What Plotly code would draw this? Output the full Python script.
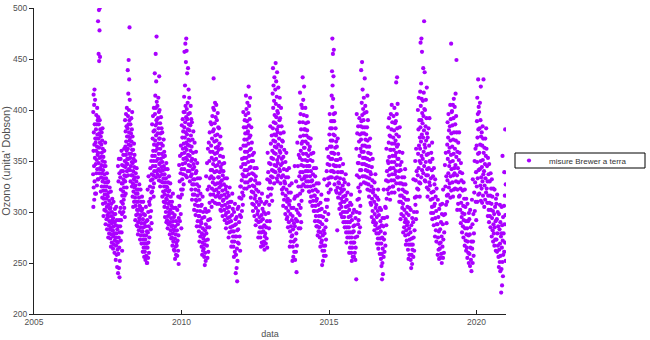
import plotly.graph_objects as go

# Ozone daily totals (Dobson units), grouped by year -> month (Jan..Dec)
oz_2007 = [
    [420, 415, 410, 405, 398, 386, 378, 372, 366, 360, 353, 345, 337, 330, 324, 318, 312, 305],
    [402, 395, 390, 386, 381, 376, 372, 368, 364, 360, 356, 351, 347, 342, 338, 332, 326, 318],
    [500, 498, 487, 478, 455, 452, 448, 393, 390, 386, 381, 377, 372, 368, 363, 358, 353, 348, 343, 338, 332],
    [382, 378, 374, 370, 366, 362, 358, 354, 350, 346, 342, 338, 334, 330, 325, 320, 314],
    [368, 360, 354, 349, 345, 341, 337, 333, 329, 325, 321, 317, 313, 308, 302, 296],
    [345, 338, 333, 329, 325, 321, 317, 313, 309, 305, 301, 297, 293, 288, 283],
    [330, 324, 319, 315, 311, 307, 303, 299, 295, 291, 287, 283, 279, 275],
    [320, 313, 308, 304, 300, 296, 292, 289, 285, 282, 278, 274, 270, 266],
    [310, 303, 298, 294, 290, 286, 282, 279, 276, 272, 268, 264, 260],
    [305, 298, 292, 287, 283, 279, 275, 271, 267, 263, 258, 253, 246],
    [352, 345, 338, 330, 300, 292, 286, 280, 275, 270, 265, 259, 252, 245, 240, 236],
    [360, 352, 346, 340, 334, 328, 322, 316, 310, 304, 298, 292, 286, 280, 272, 262],
]
oz_2008 = [
    [362, 356, 350, 345, 340, 336, 332, 328, 324, 320, 316, 312, 308, 304, 300, 295],
    [402, 396, 390, 384, 379, 374, 369, 364, 360, 356, 352, 348, 344, 340, 335, 330, 324, 318],
    [481, 449, 439, 430, 416, 410, 400, 394, 390, 386, 382, 378, 374, 370, 366, 362, 357, 352, 347, 342, 336],
    [398, 392, 386, 381, 377, 373, 369, 365, 361, 357, 353, 349, 345, 341, 336, 330, 325],
    [374, 367, 361, 356, 352, 348, 344, 340, 336, 332, 328, 324, 320, 315, 310, 305],
    [350, 343, 338, 334, 330, 326, 322, 318, 314, 310, 306, 302, 297, 292, 287],
    [334, 327, 322, 318, 314, 310, 306, 302, 298, 294, 290, 286, 282, 278],
    [322, 315, 310, 305, 301, 297, 293, 289, 285, 281, 277, 273, 269],
    [310, 303, 298, 293, 289, 285, 281, 277, 273, 269, 265, 261, 256],
    [305, 297, 291, 286, 281, 277, 273, 269, 265, 261, 257, 253, 250],
    [335, 322, 310, 300, 292, 286, 280, 275, 270, 265, 260, 255, 250],
    [350, 343, 337, 331, 325, 319, 313, 307, 301, 295, 289, 283],
]
oz_2009 = [
    [402, 394, 386, 379, 372, 366, 360, 355, 350, 345, 340, 336, 332, 328, 324, 320, 315],
    [472, 455, 436, 428, 414, 408, 402, 396, 390, 385, 380, 375, 370, 365, 360, 355, 350, 345, 340, 334],
    [433, 412, 404, 398, 392, 387, 382, 377, 372, 367, 362, 357, 352, 347, 342, 337, 331],
    [400, 393, 387, 382, 377, 372, 367, 362, 357, 352, 348, 344, 340, 335, 330, 325],
    [378, 371, 365, 359, 354, 349, 345, 341, 337, 333, 329, 325, 320, 315, 310],
    [355, 348, 342, 337, 333, 329, 325, 321, 317, 313, 309, 305, 300, 295, 290],
    [342, 335, 329, 324, 320, 316, 312, 308, 304, 300, 296, 292, 288, 284],
    [328, 321, 315, 310, 306, 302, 298, 294, 290, 286, 282, 278, 274],
    [318, 310, 304, 299, 295, 291, 287, 283, 279, 275, 271, 267, 263],
    [304, 297, 291, 286, 282, 278, 274, 270, 266, 262, 258, 254],
    [315, 302, 294, 288, 282, 277, 272, 267, 262, 257, 249],
    [365, 355, 346, 338, 330, 322, 314, 306, 298, 291, 284],
]
oz_2010 = [
    [398, 391, 385, 379, 373, 367, 362, 357, 352, 347, 342, 337, 332, 327, 322, 317],
    [470, 465, 457, 447, 424, 413, 404, 398, 393, 388, 383, 378, 373, 368, 363, 358, 353, 348, 342, 336],
    [458, 441, 436, 420, 407, 401, 396, 391, 386, 381, 376, 371, 366, 361, 356, 351, 346, 340, 334],
    [412, 404, 397, 391, 385, 380, 375, 370, 365, 360, 355, 350, 345, 340, 335, 330],
    [388, 379, 371, 364, 358, 352, 347, 342, 337, 332, 327, 322, 317, 312],
    [368, 359, 351, 344, 338, 332, 327, 322, 317, 312, 307, 302, 297],
    [348, 340, 333, 327, 321, 316, 311, 306, 301, 296, 291, 286],
    [333, 325, 318, 312, 306, 301, 296, 291, 286, 281, 276, 271],
    [315, 307, 300, 294, 289, 284, 279, 274, 270, 266, 262, 258],
    [303, 295, 288, 282, 277, 272, 268, 264, 260, 256, 252, 248],
    [362, 348, 335, 322, 300, 292, 285, 279, 273, 267, 261, 255],
    [388, 378, 368, 359, 350, 341, 333, 325, 317, 309, 301, 293, 285],
]
oz_2011 = [
    [402, 394, 386, 379, 372, 365, 359, 353, 347, 341, 335, 329, 323, 317, 311, 305],
    [431, 407, 400, 393, 387, 381, 375, 369, 363, 357, 351, 345, 339, 333, 327, 321, 315, 309],
    [405, 397, 390, 383, 376, 370, 364, 358, 352, 346, 340, 334, 328, 322, 316, 308],
    [382, 374, 367, 361, 355, 349, 344, 339, 334, 329, 324, 319, 314, 308, 302],
    [362, 354, 347, 341, 336, 331, 326, 321, 316, 311, 306, 301, 296],
    [348, 340, 333, 327, 322, 317, 312, 307, 302, 297, 292],
    [333, 325, 319, 314, 309, 304, 299, 294, 289, 284],
    [324, 316, 310, 305, 300, 295, 290, 285, 280, 275],
    [318, 310, 303, 297, 291, 286, 281, 276, 271, 266],
    [308, 300, 293, 287, 281, 276, 271, 266, 261, 256],
    [303, 295, 288, 282, 276, 270, 264, 258, 252, 245, 240, 232],
    [325, 314, 305, 297, 290, 283, 276, 269, 262],
]
oz_2012 = [
    [362, 352, 344, 337, 331, 325, 319, 313, 307, 301, 295],
    [398, 390, 383, 377, 371, 365, 359, 353, 347, 341, 335, 329, 323, 316],
    [414, 407, 401, 395, 389, 383, 377, 371, 365, 359, 353, 347, 341, 335, 329, 323],
    [423, 412, 404, 397, 391, 385, 379, 373, 367, 361, 355, 349, 343, 337, 331, 325],
    [383, 375, 368, 362, 356, 350, 344, 338, 332, 326, 320, 314, 308],
    [358, 350, 343, 337, 331, 325, 319, 313, 307, 301, 296],
    [343, 335, 328, 322, 316, 310, 304, 298, 292, 287],
    [328, 320, 313, 307, 301, 295, 290, 285, 280, 275],
    [318, 310, 303, 297, 291, 285, 280, 275, 270, 266],
    [308, 300, 293, 287, 281, 276, 271, 267, 263],
    [332, 310, 298, 291, 285, 279, 274, 269, 265],
    [358, 348, 339, 331, 323, 315, 307, 299, 291, 284],
]
oz_2013 = [
    [384, 375, 367, 360, 353, 347, 341, 335, 329, 323, 317, 311],
    [441, 432, 424, 416, 409, 402, 395, 388, 382, 376, 370, 364, 358, 352, 346, 340, 334, 328],
    [446, 437, 428, 420, 413, 406, 399, 393, 387, 381, 375, 369, 363, 357, 351, 345, 339, 333],
    [422, 412, 404, 397, 390, 384, 378, 372, 366, 360, 354, 348, 342, 336, 330],
    [402, 392, 384, 377, 370, 364, 358, 352, 346, 340, 334, 328, 322],
    [378, 369, 361, 354, 348, 342, 336, 330, 324, 318, 312, 306],
    [358, 349, 341, 334, 328, 322, 316, 310, 304, 298, 293],
    [343, 334, 326, 319, 313, 307, 301, 295, 290, 285],
    [328, 319, 311, 304, 298, 292, 286, 281, 276, 271, 266],
    [313, 304, 296, 289, 283, 277, 271, 266, 261, 256, 252],
    [345, 330, 315, 302, 293, 286, 279, 273, 267, 261, 253, 241],
    [368, 356, 345, 335, 325, 316, 307, 299, 291, 284],
]
oz_2014 = [
    [417, 405, 396, 388, 381, 374, 367, 360, 353, 346, 339, 332, 325, 318, 311, 304, 297, 290, 284],
    [432, 423, 410, 402, 395, 388, 381, 375, 369, 363, 357, 351, 345, 339, 333, 327, 321],
    [402, 394, 387, 381, 375, 369, 363, 357, 351, 345, 340, 335, 330, 325],
    [388, 380, 373, 367, 361, 355, 350, 345, 340, 335, 330, 325, 320],
    [372, 364, 357, 351, 345, 340, 335, 330, 325, 320, 315, 310],
    [358, 350, 343, 337, 331, 326, 321, 316, 311, 306, 301],
    [343, 335, 328, 322, 316, 311, 306, 301, 296, 291, 286],
    [328, 320, 313, 307, 301, 296, 291, 286, 281, 277],
    [317, 309, 302, 296, 290, 285, 280, 275, 270, 266],
    [303, 295, 288, 282, 277, 272, 267, 262, 257, 252, 248],
    [332, 312, 300, 292, 285, 279, 273, 267, 262, 257],
    [362, 354, 347, 340, 333, 326, 319, 312, 305, 298],
]
oz_2015 = [
    [396, 389, 382, 376, 370, 364, 358, 352, 346, 340, 334, 328, 322],
    [470, 459, 455, 438, 433, 424, 414, 411, 403, 396, 389, 382, 376, 370, 364, 358, 352, 346, 340, 334],
    [397, 389, 382, 375, 369, 363, 357, 351, 345, 339, 333, 327, 321],
    [372, 364, 357, 351, 345, 339, 334, 329, 324, 319, 314, 282],
    [352, 345, 339, 333, 328, 323, 318, 313, 308, 303, 298],
    [347, 339, 332, 326, 320, 315, 310, 305, 300, 295, 290],
    [337, 329, 322, 316, 310, 305, 300, 295, 290, 285, 280],
    [327, 319, 312, 306, 300, 295, 290, 285, 280, 275, 270],
    [317, 309, 302, 296, 290, 285, 280, 275, 270, 265, 260],
    [307, 299, 292, 286, 280, 275, 270, 265, 260, 256, 252],
    [302, 294, 287, 281, 275, 270, 265, 260, 256, 253],
    [396, 384, 377, 362, 348, 336, 324, 312, 300, 288, 276, 234],
]
oz_2016 = [
    [392, 384, 376, 369, 362, 355, 348, 341, 334, 327, 320, 313, 306, 299, 292, 285, 280],
    [447, 439, 420, 407, 401, 395, 389, 383, 377, 371, 365, 359, 353, 347, 341, 335],
    [431, 412, 404, 397, 390, 383, 377, 371, 365, 359, 353, 347, 341, 335, 329],
    [414, 398, 390, 383, 376, 370, 364, 358, 352, 346, 340, 334, 328, 322],
    [372, 364, 357, 351, 345, 339, 333, 327, 321, 315, 309],
    [352, 344, 337, 331, 325, 319, 313, 307, 301, 295, 290],
    [337, 329, 322, 316, 310, 304, 298, 292, 287, 282],
    [322, 314, 307, 301, 295, 289, 284, 279, 274, 269],
    [312, 304, 297, 291, 285, 279, 274, 269, 264, 259],
    [302, 294, 287, 281, 275, 269, 264, 259, 254, 250, 247, 239, 234],
    [322, 305, 294, 286, 279, 273, 267, 261, 256],
    [362, 350, 340, 331, 322, 313, 304, 295, 287],
]
oz_2017 = [
    [392, 383, 375, 368, 361, 354, 348, 342, 336, 330, 324, 318, 312],
    [405, 396, 388, 381, 374, 367, 361, 355, 349, 343, 337, 331, 325, 319],
    [402, 394, 387, 380, 373, 367, 361, 355, 349, 343, 337, 331, 325, 319],
    [432, 427, 406, 396, 389, 382, 376, 370, 364, 358, 352, 346, 340, 334, 328],
    [383, 374, 366, 359, 352, 346, 340, 334, 328, 322, 316, 310],
    [358, 349, 341, 334, 328, 322, 316, 310, 304, 298, 293],
    [342, 334, 327, 320, 314, 308, 302, 296, 290, 285, 280],
    [327, 319, 312, 305, 299, 293, 287, 282, 277, 272, 268],
    [312, 304, 297, 290, 284, 278, 273, 268, 263, 258, 254],
    [302, 294, 287, 280, 274, 268, 263, 258, 253, 249, 245],
    [332, 314, 300, 290, 282, 275, 268, 262, 256],
    [362, 350, 340, 331, 323, 315, 307, 300, 293],
]
oz_2018 = [
    [412, 400, 390, 381, 373, 365, 357, 350, 343, 336, 329, 322, 315],
    [470, 466, 457, 426, 418, 411, 404, 397, 390, 383, 376, 369, 362, 355, 348, 341, 334, 328],
    [487, 441, 437, 417, 409, 401, 394, 387, 380, 373, 366, 359, 352, 345, 338, 331],
    [422, 410, 400, 392, 384, 377, 370, 363, 356, 349, 342, 336, 330, 324],
    [392, 382, 373, 365, 357, 350, 343, 336, 329, 322, 315],
    [368, 358, 349, 341, 333, 326, 319, 312, 305, 299],
    [352, 343, 335, 327, 320, 313, 306, 299, 293, 287],
    [332, 323, 315, 308, 301, 294, 288, 282, 276, 271],
    [312, 303, 295, 288, 281, 275, 269, 263, 258, 254],
    [307, 298, 290, 283, 276, 270, 264, 259, 255, 250],
    [322, 308, 297, 288, 280, 273, 266, 260, 255],
    [358, 346, 335, 325, 316, 307, 298, 289],
]
oz_2019 = [
    [396, 388, 380, 373, 366, 359, 352, 345, 338, 331, 324, 317, 310],
    [465, 405, 398, 391, 384, 377, 370, 363, 356, 349, 342, 335, 328, 321, 314],
    [411, 405, 399, 392, 385, 378, 371, 364, 357, 350, 343, 336, 329, 322, 315],
    [449, 416, 403, 394, 386, 378, 370, 362, 354, 346, 338, 330, 323],
    [378, 368, 359, 351, 343, 336, 329, 322, 315, 308, 302],
    [358, 348, 339, 331, 323, 316, 309, 302, 295, 289],
    [338, 329, 321, 313, 306, 299, 292, 286, 280, 275],
    [322, 313, 305, 298, 291, 284, 278, 272, 267, 262],
    [308, 299, 291, 284, 277, 271, 265, 260, 255, 250],
    [302, 293, 285, 278, 271, 265, 259, 253, 247, 242],
    [332, 312, 298, 288, 279, 271, 264, 257, 250],
    [362, 350, 339, 329, 319, 310, 301, 292],
]
oz_2020 = [
    [430, 412, 403, 396, 389, 381, 373, 365, 357, 349, 341, 333, 325, 317, 310],
    [423, 407, 398, 390, 382, 374, 366, 358, 350, 342, 334, 326, 318, 311],
    [430, 384, 378, 372, 365, 358, 351, 344, 337, 330, 323, 316, 309],
    [382, 372, 363, 355, 347, 340, 333, 326, 319, 312, 305],
    [362, 353, 345, 337, 330, 323, 316, 309, 302, 296],
    [347, 338, 330, 323, 316, 309, 302, 296, 290, 285],
    [332, 323, 315, 308, 301, 294, 288, 282, 276, 271],
    [322, 313, 305, 298, 291, 285, 279, 273, 267, 262],
    [317, 308, 300, 293, 286, 279, 273, 267, 261, 256],
    [307, 298, 290, 283, 276, 269, 263, 257, 251, 246, 242],
    [355, 305, 295, 287, 279, 272, 265, 258, 251, 244, 237, 228, 221],
    [381, 339, 327, 316, 306, 297, 288, 279, 270, 261, 252],
]

years = [2007, 2008, 2009, 2010, 2011, 2012, 2013, 2014, 2015, 2016, 2017, 2018, 2019, 2020]
series_by_year = [oz_2007, oz_2008, oz_2009, oz_2010, oz_2011, oz_2012, oz_2013,
                  oz_2014, oz_2015, oz_2016, oz_2017, oz_2018, oz_2019, oz_2020]

x_ticks = [2005, 2010, 2015, 2020]
y_ticks = [200, 250, 300, 350, 400, 450, 500]
series_name = "misure Brewer a terra"

GOLDEN = 0.6180339887

xs, ys = [], []
for yi, (yr, months) in enumerate(zip(years, series_by_year)):
    for m, vals in enumerate(months):
        start = yi * 12 + m
        for k, v in enumerate(vals):
            # day within the month: low-discrepancy (golden ratio) placement
            frac = ((start * 5 + k + 1) * GOLDEN) % 1.0
            xs.append(yr + (m + 0.03 + 0.94 * frac) / 12.0)
            ys.append(v)

PURPLE = "rgb(170,0,255)"
TXT = "#505050"
FONT = "Liberation Sans, Arial, sans-serif"

fig = go.Figure()
fig.add_trace(go.Scatter(
    x=xs, y=ys, mode="markers", name=series_name,
    marker=dict(color=PURPLE, size=4.2, symbol="circle", line=dict(width=0)),
))

L, R, T, B = 34, 144, 8, 26
W, H = 650, 340
pw, ph = W - L - R, H - T - B


def px2paper_x(px):
    return (px - L) / pw


def px2paper_y(py):
    return (H - B - py) / ph


fig.update_layout(
    width=W, height=H,
    margin=dict(l=L, r=R, t=T, b=B, pad=0, autoexpand=False),
    paper_bgcolor="white", plot_bgcolor="white",
    font=dict(family=FONT, size=9, color=TXT),
    showlegend=True,
    legend=dict(
        x=px2paper_x(509), xanchor="left",
        y=px2paper_y(160.5), yanchor="middle",
        bgcolor="rgba(0,0,0,0)", borderwidth=0,
        font=dict(family=FONT, size=8, color="#333333"),
        itemwidth=30,
    ),
    shapes=[dict(
        type="rect", xref="paper", yref="paper",
        x0=px2paper_x(515), x1=px2paper_x(645),
        y0=px2paper_y(168), y1=px2paper_y(153),
        line=dict(color="black", width=1), fillcolor="rgba(0,0,0,0)",
    )],
)

fig.update_xaxes(
    range=[2005, 2021], tickvals=x_ticks, ticktext=[str(t) for t in x_ticks],
    showgrid=False, zeroline=False, showline=True, linecolor="#222222", linewidth=1,
    ticks="inside", ticklen=4, tickcolor="#222222", mirror=False, automargin=False,
    tickfont=dict(family=FONT, size=8.5, color=TXT),
    title=dict(text="data", font=dict(family=FONT, size=9, color=TXT), standoff=4),
)
fig.update_yaxes(
    range=[200, 500], tickvals=y_ticks, ticktext=[str(t) for t in y_ticks],
    showgrid=False, zeroline=False, showline=True, linecolor="#222222", linewidth=1,
    ticks="outside", ticklen=4, tickcolor="#222222", mirror=False, automargin=False,
    tickfont=dict(family=FONT, size=8.5, color=TXT),
    title=dict(text="Ozono (unita' Dobson)", font=dict(family=FONT, size=11, color=TXT), standoff=2),
)

fig.write_html("out.html")
